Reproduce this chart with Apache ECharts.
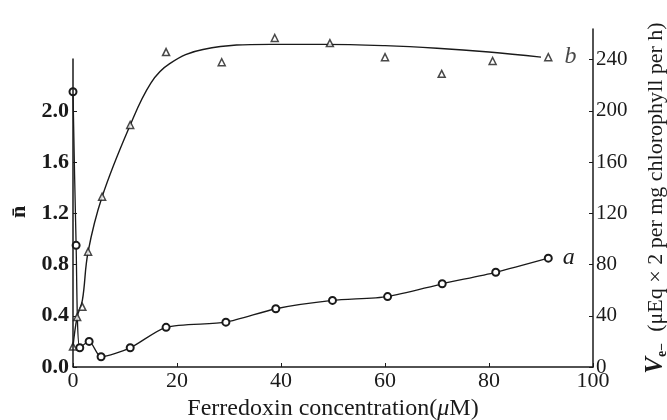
<!DOCTYPE html>
<html><head><meta charset="utf-8">
<script src="https://cdn.jsdelivr.net/npm/echarts@6/dist/echarts.min.js"></script>
<style>html,body{margin:0;padding:0;background:#fff}#c{width:667px;height:420px}</style>
</head><body><div id="c"></div>
<script>
// Series a: n (left axis), circles
const aX = [0, 0.6, 1.3, 3.1, 5.4, 11, 17.9, 29.4, 39, 49.9, 60.5, 71, 81.3, 91.4];
const aN = [2.15, 0.95, 0.15, 0.2, 0.08, 0.15, 0.31, 0.35, 0.455, 0.52, 0.55, 0.65, 0.74, 0.85];
// Series b: V (right axis), triangles
const bX = [0, 0.8, 1.8, 2.9, 5.6, 11, 17.9, 28.6, 38.8, 49.4, 60, 70.9, 80.7, 91.4];
const bV = [16, 39, 47, 90, 133, 189, 246, 238, 257, 253, 242, 229, 239, 242];
// Fitted curve for b
const bCurveX = [0, 0.8, 1.8, 2.9, 5.6, 11, 15, 18.6, 25, 38, 48, 60, 70, 80, 90];
const bCurveV = [16, 39, 52, 90, 133, 189, 222, 237, 248, 252, 252, 251, 249, 246, 242];
// Tick labels
const xTicks = [0, 20, 40, 60, 80, 100];
const nTicks = [0, 0.4, 0.8, 1.2, 1.6, 2.0];
const vTicks = [0, 40, 80, 120, 160, 200, 240];
const nAxisTop = 2.41;

const F = "'Liberation Serif','DejaVu Serif',serif";
const ink = '#1a1a1a';
const chart = echarts.init(document.getElementById('c'), null, {renderer: 'canvas'});
const pair = (xs, ys) => xs.map((x, i) => [x, ys[i]]);
const endLabel = (txt, dist) => ({show: true, formatter: txt, position: 'right', distance: dist,
  fontFamily: F, fontStyle: 'italic', fontSize: 24, color: ink});
const aData = pair(aX, aN).map((p, i, arr) => i === arr.length - 1 ? {value: p, label: endLabel('a', 10)} : p);
const bData = pair(bX, bV).map((p, i, arr) => i === arr.length - 1 ? {value: p, label: endLabel('b', 12)} : p);

chart.setOption({
  animation: false,
  backgroundColor: '#fff',
  grid: {left: 73, right: 74, top: 29, bottom: 53, containLabel: false, outerBoundsMode: 'none'},
  xAxis: {
    type: 'value', min: 0, max: 100, interval: 20,
    axisLine: {show: true, lineStyle: {color: ink, width: 1.5}},
    axisTick: {show: true, inside: true, length: 4, lineStyle: {color: ink}, customValues: xTicks},
    axisLabel: {color: ink, fontFamily: F, fontSize: 22, margin: 3, customValues: xTicks},
    splitLine: {show: false},
    name: 'Ferredoxin concentration{m|(}{mu|\u03bc}{m|M)}', nameLocation: 'middle', nameGap: 26,
    nameTextStyle: {color: ink, fontFamily: F, fontSize: 24,
      rich: {m: {fontFamily: F, fontSize: 24, color: ink},
             mu: {fontFamily: F, fontSize: 24, fontStyle: 'italic', color: ink}}}
  },
  yAxis: [{
    type: 'value', min: 0, max: 2.64, interval: 0.4,
    axisLine: {show: false},
    axisTick: {show: true, inside: true, length: 4, lineStyle: {color: ink}, customValues: nTicks},
    axisLabel: {color: ink, fontFamily: F, fontSize: 22, fontWeight: 'bold', margin: 4,
      customValues: nTicks, formatter: v => v.toFixed(1)},
    splitLine: {show: false},
    name: 'n\u0304', nameLocation: 'middle', nameGap: 40,
    nameTextStyle: {color: ink, fontFamily: F, fontSize: 22, fontWeight: 'bold', padding: [0, 28, 0, 0]}
  }, {
    type: 'value', min: 0, max: 264, interval: 40, position: 'right',
    axisLine: {show: true, lineStyle: {color: ink, width: 1.5}},
    axisTick: {show: true, inside: true, length: 4, lineStyle: {color: ink}, customValues: vTicks},
    axisLabel: {color: ink, fontFamily: F, fontSize: 21, margin: 3, customValues: vTicks},
    splitLine: {show: false},
    name: '{v|V}{s|e\u2212}  (\u03bcEq \u00d7 2 per mg chlorophyll per h)', nameLocation: 'middle', nameGap: 50, nameRotate: 90,
    nameTextStyle: {color: ink, fontFamily: F, fontSize: 22,
      rich: {v: {fontFamily: F, fontSize: 25, fontStyle: 'italic', fontWeight: 'bold', color: ink},
             s: {fontFamily: F, fontSize: 14, fontWeight: 'bold', color: ink, padding: [12, 0, 0, 0]}}}
  }],
  series: [{
    name: 'a', type: 'line', yAxisIndex: 0, smooth: 0.25, data: aData,
    symbol: 'emptyCircle', symbolSize: 7,
    lineStyle: {color: ink, width: 1.3},
    itemStyle: {color: ink, borderColor: ink, borderWidth: 1.3},
    markLine: {silent: true, symbol: 'none', label: {show: false},
      lineStyle: {color: ink, width: 1.5, type: 'solid'},
      data: [[{coord: [0, 0]}, {coord: [0, nAxisTop]}]]},
    z: 3
  }, {
    name: 'bCurve', type: 'line', yAxisIndex: 1, smooth: 0.4, data: pair(bCurveX, bCurveV),
    showSymbol: false, symbol: 'none',
    lineStyle: {color: ink, width: 1.4}, z: 2
  }, {
    name: 'b', type: 'scatter', yAxisIndex: 1, data: bData,
    symbol: 'triangle', symbolSize: 7,
    itemStyle: {color: '#fff', borderColor: ink, borderWidth: 1.5}, z: 4
  }]
});
</script></body></html>
